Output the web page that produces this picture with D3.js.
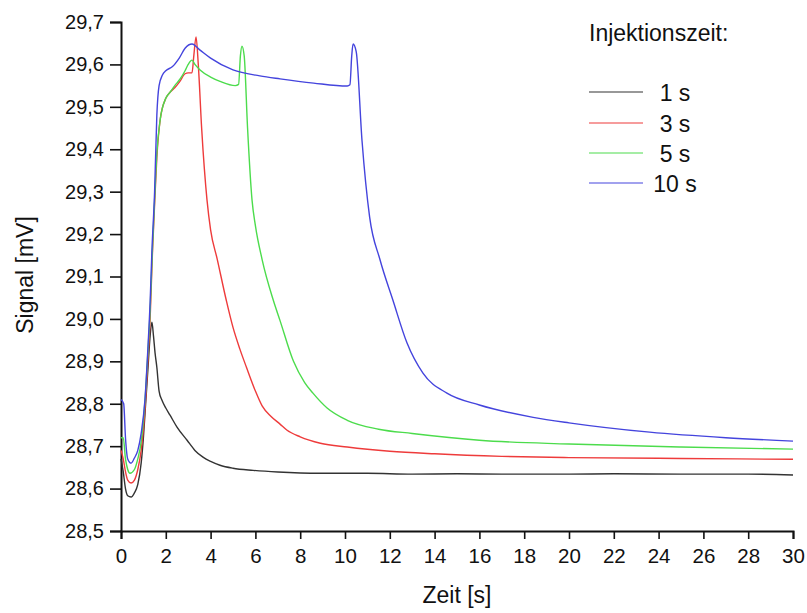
<!DOCTYPE html>
<html><head><meta charset="utf-8">
<script src="https://cdn.jsdelivr.net/npm/d3@7/dist/d3.min.js"></script>
<style>body{margin:0;background:#fff}svg{display:block}text{font-family:"Liberation Sans",Arial,sans-serif;fill:#111}</style>
</head><body>
<svg id="c" width="807" height="613"></svg>
<script>
const seriesNames = ["1 s", "3 s", "5 s", "10 s"];
const seriesColors = ["#333333", "#ee3b3b", "#4cdc4c", "#4444dd"];
const xTicks = [0,2,4,6,8,10,12,14,16,18,20,22,24,26,28,30];
const yTicks = [28.5,28.6,28.7,28.8,28.9,29.0,29.1,29.2,29.3,29.4,29.5,29.6,29.7];

const s1 = [[0,28.67],[0.1,28.64],[0.2,28.6],[0.3,28.583],[0.45,28.58],[0.6,28.59],[0.75,28.61],[0.9,28.66],[1.0,28.72],[1.1,28.8],[1.2,28.88],[1.3,28.96],[1.38,28.992],[1.45,28.96],[1.52,28.92],[1.6,28.886],[1.7,28.83],[1.83,28.808],[2.0,28.79],[2.19,28.773],[2.5,28.745],[2.95,28.714],[3.3,28.69],[3.66,28.674],[4.0,28.664],[4.42,28.655],[5.0,28.648],[5.9,28.643],[7,28.639],[8.9,28.636],[11,28.636],[13,28.634],[15,28.635],[17,28.634],[20,28.634],[22,28.635],[25,28.634],[28,28.634],[30,28.632]];
const s3 = [[0,28.69],[0.1,28.67],[0.2,28.64],[0.3,28.62],[0.45,28.613],[0.6,28.62],[0.75,28.645],[0.9,28.69],[1.0,28.74],[1.1,28.81],[1.2,28.9],[1.3,29.0],[1.4,29.15],[1.5,29.27],[1.6,29.38],[1.75,29.47],[2.0,29.52],[2.2,29.535],[2.4,29.545],[2.63,29.56],[2.86,29.578],[3.0,29.58],[3.17,29.58],[3.25,29.62],[3.35,29.665],[3.45,29.6],[3.6,29.45],[3.84,29.28],[4.0,29.21],[4.3,29.14],[4.7,29.044],[5.0,28.98],[5.3,28.93],[5.6,28.886],[6.0,28.83],[6.3,28.795],[6.7,28.77],[7.1,28.752],[7.4,28.738],[8.0,28.722],[8.9,28.707],[10.1,28.698],[12,28.688],[14,28.682],[17,28.676],[20,28.673],[25,28.671],[30,28.669]];
const s5 = [[0,28.72],[0.1,28.72],[0.2,28.67],[0.3,28.645],[0.4,28.636],[0.6,28.645],[0.75,28.67],[0.9,28.71],[1.0,28.76],[1.1,28.83],[1.2,28.92],[1.3,29.02],[1.4,29.16],[1.5,29.28],[1.6,29.39],[1.75,29.47],[2.0,29.52],[2.2,29.535],[2.4,29.55],[2.63,29.565],[2.86,29.585],[3.0,29.6],[3.17,29.61],[3.3,29.6],[3.53,29.587],[4.0,29.57],[4.42,29.56],[5.1,29.55],[5.25,29.553],[5.33,29.62],[5.4,29.643],[5.5,29.62],[5.65,29.45],[5.85,29.28],[6.0,29.22],[6.3,29.14],[6.8,29.044],[7.1,28.996],[7.7,28.9],[8.2,28.85],[8.57,28.825],[9.2,28.79],[10.1,28.761],[11.5,28.74],[13,28.73],[16,28.714],[20,28.705],[25,28.698],[30,28.693]];
const s10 = [[0,28.81],[0.12,28.80],[0.2,28.72],[0.3,28.67],[0.45,28.66],[0.6,28.672],[0.75,28.69],[0.9,28.73],[1.07,28.81],[1.2,28.93],[1.3,29.04],[1.38,29.16],[1.5,29.3],[1.6,29.48],[1.7,29.55],[1.85,29.575],[2.0,29.585],[2.3,29.595],[2.6,29.615],[2.86,29.638],[3.17,29.648],[3.5,29.635],[4.0,29.615],[5.0,29.587],[6.2,29.573],[7.1,29.566],[8.6,29.556],[10.1,29.549],[10.22,29.552],[10.3,29.62],[10.36,29.648],[10.5,29.63],[10.76,29.42],[11.1,29.24],[11.56,29.14],[12.14,29.044],[12.77,28.943],[13.48,28.872],[14.55,28.825],[16,28.797],[18.4,28.768],[20,28.755],[23.6,28.733],[27,28.72],[30,28.712]];
const seriesData = [s1, s3, s5, s10];

const svg = d3.select("#c");
const x = d3.scaleLinear().domain([0,30]).range([121,793]);
const y = d3.scaleLinear().domain([28.5,29.7]).range([531,22]);
const fmt = d => d3.format(".1f")(d).replace(".", ",");

const gx = svg.append("g").attr("transform","translate(0,531)");
gx.call(d3.axisBottom(x).tickValues(d3.range(0,31,1)).tickSize(4).tickFormat(""));
gx.call(d3.axisBottom(x).tickValues(xTicks).tickSize(8).tickPadding(9).tickFormat(d3.format("d")));
gx.selectAll("path.domain").attr("stroke","#111").attr("stroke-width",2);
gx.selectAll("line").attr("stroke","#111").attr("stroke-width",1.6);
gx.selectAll("text").attr("font-size",20.5).attr("fill","#111");

const gy = svg.append("g").attr("transform","translate(121,0)");
gy.call(d3.axisLeft(y).tickValues(d3.range(0,25).map(i=>28.5+i*0.05)).tickSize(6).tickFormat(""));
gy.call(d3.axisLeft(y).tickValues(yTicks).tickSize(11).tickPadding(6).tickFormat(fmt));
gy.selectAll("path.domain").attr("stroke","#111").attr("stroke-width",2);
gy.selectAll("line").attr("stroke","#111").attr("stroke-width",1.6);
gy.selectAll("text").attr("font-size",20).attr("fill","#111");

const line = d3.line().x(d=>x(d[0])).y(d=>y(d[1])).curve(d3.curveMonotoneX);
seriesData.forEach((s,i)=>{
  svg.append("path").datum(s).attr("d",line).attr("fill","none")
    .attr("stroke",seriesColors[i]).attr("stroke-width",1.4);
});

svg.append("text").attr("x",457).attr("y",603).attr("text-anchor","middle").attr("font-size",23).text("Zeit [s]");
svg.append("text").attr("transform","translate(33,275) rotate(-90)").attr("text-anchor","middle").attr("font-size",23).text("Signal [mV]");

svg.append("text").attr("x",589).attr("y",41).attr("font-size",23).text("Injektionszeit:");
const legY = [92,123,153,183];
seriesNames.forEach((n,i)=>{
  svg.append("line").attr("x1",589).attr("x2",643).attr("y1",legY[i]).attr("y2",legY[i])
    .attr("stroke",seriesColors[i]).attr("stroke-width",1.2);
  svg.append("text").attr("x",675).attr("y",legY[i]+9).attr("text-anchor","middle").attr("font-size",23).text(n);
});
</script>
</body></html>
